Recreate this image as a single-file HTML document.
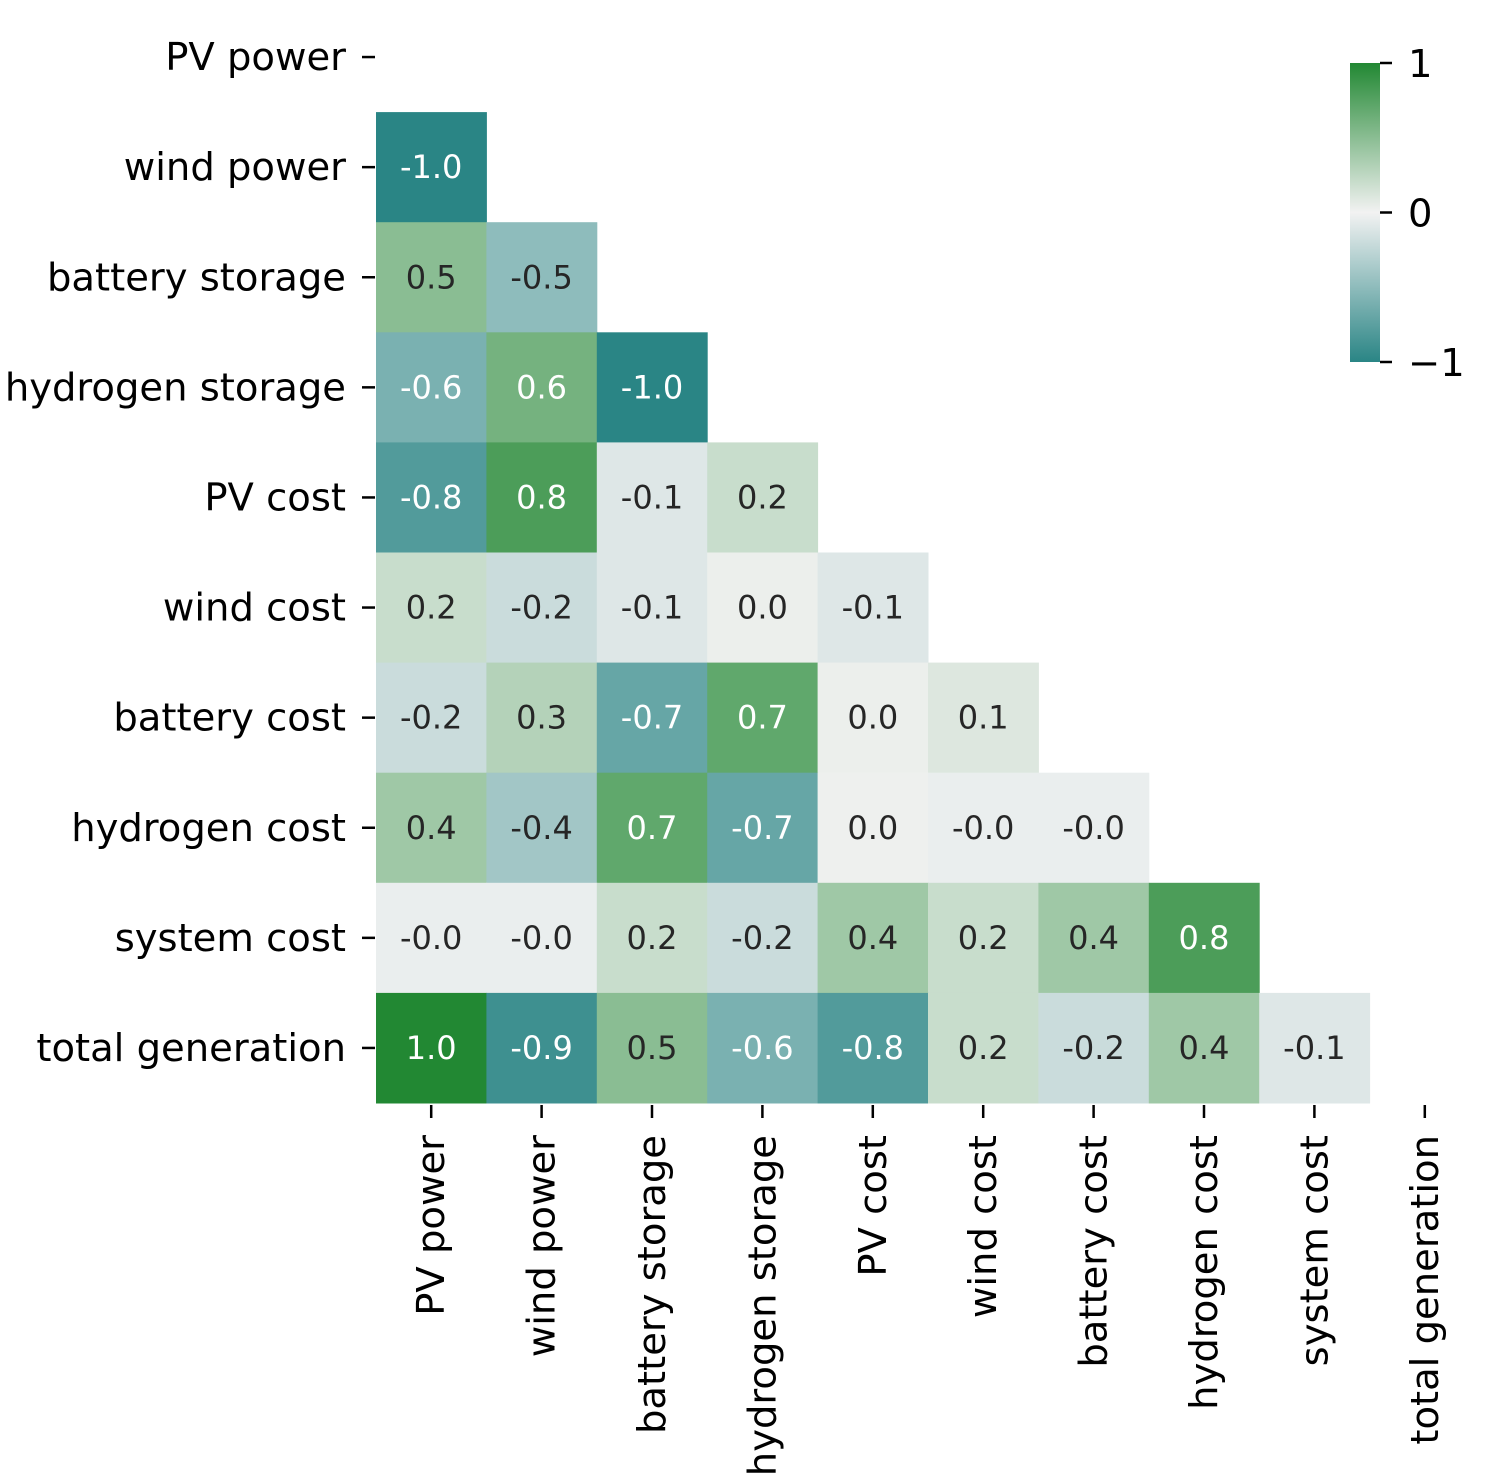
<!DOCTYPE html>
<html><head><meta charset="utf-8"><style>
html,body{margin:0;padding:0;background:#fff;}
svg text{font-family:"DejaVu Sans","Liberation Sans",sans-serif;}
</style></head><body>
<svg id="chart" width="1500" height="1474" xmlns="http://www.w3.org/2000/svg">
<defs><linearGradient id="cbg" x1="0" y1="1" x2="0" y2="0">
<stop offset="0" stop-color="#2a8585"/><stop offset="0.5" stop-color="#f2f2f2"/><stop offset="1" stop-color="#228833"/>
</linearGradient></defs>
<g id="cells"></g><g id="axes"></g>
<g>
<rect x="1350" y="63" width="30" height="299" fill="url(#cbg)"/>
</g>
</svg>
<script>
const labels=["PV power","wind power","battery storage","hydrogen storage","PV cost","wind cost","battery cost","hydrogen cost","system cost","total generation"];
const row1=[-1.0];
const row2=[0.5,-0.5];
const row3=[-0.6,0.6,-1.0];
const row4=[-0.8,0.8,-0.1,0.2];
const row5=[0.2,-0.2,-0.1,0.03,-0.1];
const row6=[-0.2,0.3,-0.7,0.7,0.03,0.1];
const row7=[0.4,-0.4,0.7,-0.7,0.02,-0.04,-0.04];
const row8=[-0.04,-0.04,0.2,-0.2,0.4,0.2,0.4,0.8];
const row9=[1.0,-0.9,0.5,-0.6,-0.8,0.2,-0.2,0.4,-0.1];
const cbTicks=[1,0,-1];
const rows=[[],row1,row2,row3,row4,row5,row6,row7,row8,row9];
const NS="http://www.w3.org/2000/svg";
const x0=376,cw=110.4,y0=2,ch=110.1;
const xs=i=>x0+i*cw, ys=i=>y0+i*ch;
function col(v){const a=[42,133,133],m=[242,242,242],b=[34,136,51];const t=Math.abs(v),e=v<0?a:b;
return "rgb("+m.map((c,k)=>Math.round(c+(e[k]-c)*t)).join(",")+")";}
function fmt(v){let s=v.toFixed(1);if(v<0&&s==="0.0")s="-0.0";return s;}
function mk(tag,at,parent){const el=document.createElementNS(NS,tag);for(const k in at)el.setAttribute(k,at[k]);parent.appendChild(el);return el;}
const cells=document.getElementById('cells'),axes=document.getElementById('axes'),svg=document.getElementById('chart');
rows.forEach((r,i)=>r.forEach((v,j)=>{
 const rc=mk('rect',{x:xs(j),y:ys(i),width:cw+0.5,height:ch+0.5,fill:col(v)},cells);
 
 
 const t=mk('text',{x:xs(j)+cw/2,y:ys(i)+ch/2+11,'text-anchor':'middle','font-size':32,fill:Math.abs(v)>=0.55?'#fff':'#262626'},cells);
 t.textContent=fmt(v);
 
 
}));
labels.forEach((l,i)=>{
 const yc=ys(i)+ch/2;
 mk('line',{x1:362,x2:375,y1:yc,y2:yc,stroke:'#000','stroke-width':2.5},axes);
 const t=mk('text',{x:346,y:yc+13,'text-anchor':'end','font-size':38.5,fill:'#000'},axes);t.textContent=l;
 
 
 const xc=xs(i)+cw/2;
 mk('line',{x1:xc,x2:xc,y1:1105,y2:1118,stroke:'#000','stroke-width':2.5},axes);
 const u=mk('text',{x:0,y:0,'text-anchor':'end','font-size':38.5,fill:'#000',transform:`translate(${xc+13},1135) rotate(-90)`},axes);u.textContent=l;
 
 
});
cbTicks.forEach(v=>{
 const y=63+(1-v)/2*299;
 mk('line',{x1:1380,x2:1392,y1:y,y2:y,stroke:'#000','stroke-width':2.5},svg);
 const t=mk('text',{x:1408,y:y+14,'font-size':38.5,fill:'#000'},svg);t.textContent=v<0?'\u22121':String(v);
 
 
});
</script>
</body></html>
